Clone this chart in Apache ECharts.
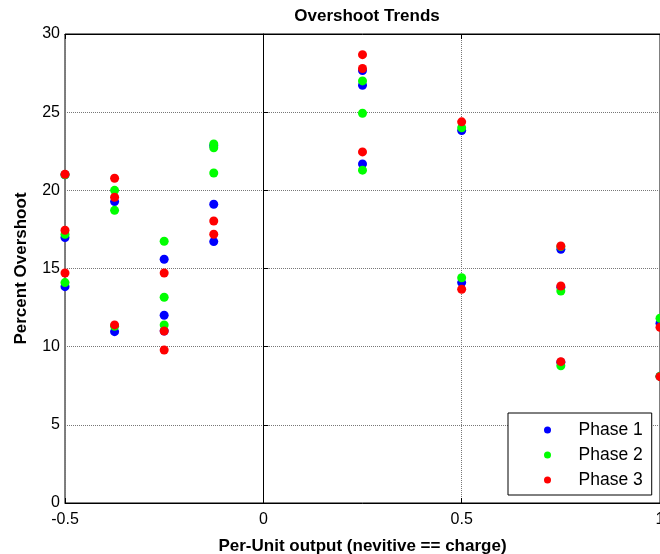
<!DOCTYPE html>
<html>
<head>
<meta charset="utf-8">
<script src="https://cdn.jsdelivr.net/npm/echarts@6/dist/echarts.min.js"></script>
<style>
  html, body { margin: 0; padding: 0; background: #fff; }
  #chart { width: 660px; height: 554px; }
</style>
</head>
<body>
<div id="chart"></div>
<script>
// Overshoot measurements per phase, as [per-unit output, percent overshoot]
const phase1 = [
  [-0.5, 21.0], [-0.5, 16.98], [-0.5, 13.84],
  [-0.375, 19.28], [-0.375, 10.96],
  [-0.25, 15.59], [-0.25, 12.01], [-0.25, 11.0],
  [-0.125, 22.85], [-0.125, 19.11], [-0.125, 16.72],
  [0.25, 27.66], [0.25, 26.72], [0.25, 21.69],
  [0.5, 23.82], [0.5, 14.1],
  [0.75, 16.23], [0.75, 13.8], [0.75, 9.0],
  [1.0, 11.5], [1.0, 8.1]
];
const phase2 = [
  [-0.5, 21.0], [-0.5, 17.19], [-0.5, 14.1],
  [-0.375, 20.0], [-0.375, 18.72], [-0.375, 11.3],
  [-0.25, 16.74], [-0.25, 13.16], [-0.25, 11.39],
  [-0.125, 22.97], [-0.125, 22.72], [-0.125, 21.11],
  [0.25, 27.0], [0.25, 24.93], [0.25, 21.29],
  [0.5, 24.0], [0.5, 14.41],
  [0.75, 16.4], [0.75, 13.56], [0.75, 8.78],
  [1.0, 11.82], [1.0, 8.1]
];
const phase3 = [
  [-0.5, 21.03], [-0.5, 17.45], [-0.5, 14.71],
  [-0.375, 20.77], [-0.375, 19.56], [-0.375, 11.39],
  [-0.25, 14.71], [-0.25, 11.0], [-0.25, 9.79],
  [-0.125, 18.04], [-0.125, 17.19],
  [0.25, 28.68], [0.25, 27.79], [0.25, 22.46],
  [0.5, 24.38], [0.5, 13.67],
  [0.75, 16.44], [0.75, 13.88], [0.75, 9.04],
  [1.0, 11.24], [1.0, 8.08]
];
const seriesNames = ['Phase 1', 'Phase 2', 'Phase 3'];
const seriesColors = ['#0000ff', '#00ff00', '#ff0000'];
const seriesData = [phase1, phase2, phase3];

const FONT = 'Arial, "Liberation Sans", sans-serif';
const gridLine = { show: true, lineStyle: { color: '#777', width: 1, type: [1, 1] } };

const chart = echarts.init(document.getElementById('chart'), null, { renderer: 'canvas' });
chart.setOption({
  animation: false,
  backgroundColor: '#fff',
  textStyle: { fontFamily: FONT },
  title: {
    text: 'Overshoot Trends',
    left: 362, top: 3, textAlign: 'center',
    textStyle: { fontFamily: FONT, fontSize: 17, fontWeight: 'bold', color: '#000' }
  },
  grid: {
    left: 65, right: 0, top: 34, bottom: 51,
    outerBoundsMode: 'none', containLabel: false,
    show: true, borderColor: '#000', borderWidth: 1
  },
  legend: {
    left: 508, top: 413,
    orient: 'vertical',
    data: seriesNames,
    icon: 'circle',
    // the circle sits at the left of a wide item box, leaving room before the label
    itemWidth: 52, itemHeight: 7, itemGap: 7,
    padding: [8, 9, 6, 36],
    backgroundColor: '#fff', borderColor: '#000', borderWidth: 1,
    textStyle: { fontFamily: FONT, fontSize: 17.5, color: '#000', lineHeight: 18 }
  },
  xAxis: [{
    type: 'value', min: -0.5, max: 1, interval: 0.5,
    name: 'Per-Unit output (nevitive == charge)',
    nameLocation: 'middle', nameGap: 35,
    nameTextStyle: { fontFamily: FONT, fontSize: 17, fontWeight: 'bold', color: '#000' },
    axisLine: { show: true, lineStyle: { color: '#000', width: 1 } },
    axisTick: { show: true, inside: true, length: 5, lineStyle: { color: '#000' } },
    axisLabel: { fontFamily: FONT, fontSize: 16, color: '#000', margin: 9, showMaxLabel: true, showMinLabel: true },
    splitLine: gridLine
  }, {
    type: 'value', position: 'top', min: -0.5, max: 1, interval: 0.5,
    axisLine: { show: true, lineStyle: { color: '#000' } },
    axisTick: { show: true, inside: true, length: 5, lineStyle: { color: '#000' } },
    axisLabel: { show: false },
    splitLine: { show: false }
  }],
  yAxis: [{
    type: 'value', min: 0, max: 30, interval: 5,
    name: 'Percent Overshoot',
    nameLocation: 'middle', nameGap: 35,
    nameTextStyle: { fontFamily: FONT, fontSize: 17, fontWeight: 'bold', color: '#000' },
    axisLine: { show: true, lineStyle: { color: '#000', width: 1 } },
    axisTick: { show: true, inside: true, length: 5, lineStyle: { color: '#000' } },
    axisLabel: { fontFamily: FONT, fontSize: 16, color: '#000', margin: 5 },
    splitLine: gridLine
  }],
  series: seriesNames.map((name, i) => ({
    name: name,
    type: 'scatter',
    data: seriesData[i],
    symbol: 'circle',
    symbolSize: 9,
    clip: false,
    itemStyle: { color: seriesColors[i], opacity: 1 },
    emphasis: { disabled: true }
  }))
});
</script>
</body>
</html>
